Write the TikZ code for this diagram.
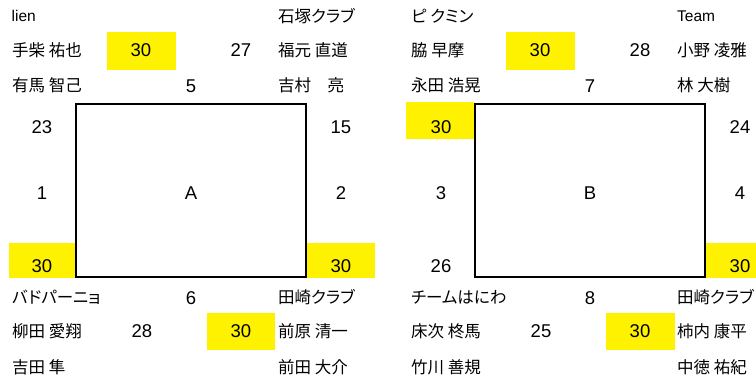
\documentclass[tikz,border=0pt]{standalone}
\usepackage{fontspec}
\setmainfont{Liberation Sans}
\newfontfamily\jp[RawFeature=+palt]{Noto Sans CJK JP}

\begin{document}
\begin{tikzpicture}[x=1pt,y=-1pt,
    nom/.style={anchor=west,inner sep=0pt,font=\jp\fontsize{16.5}{18}\selectfont},
    eq/.style={anchor=west,inner sep=0pt,font=\fontsize{15.5}{17}\selectfont},
    num/.style={inner sep=0pt,font=\fontsize{18.5}{20}\selectfont},
    hl/.style={fill=yellow},
    court/.style={draw,line width=2pt,minimum width=230pt,minimum height=173pt,inner sep=0pt}]
      \clip (0,0) rectangle (756,385);
      \def\dx{399}

      % Court A
      \fill[hl] (107,32) rectangle (176,70);
      \fill[hl] (9,243) rectangle (75,278);
      \fill[hl] (307,243) rectangle (375,278);
      \fill[hl] (207,313) rectangle (275,350);
      \node[court] (courtA) at (191,190.5) {};
      \node[num] (lblA) at (191,193) {A};

      \node[eq]  (teamA1) at (11.5,16) {lien};
      \node[nom] (teamA2) at (278,16) {石塚クラブ};
      \node[nom] (teamA3) at (12,297) {バドパーニョ};
      \node[nom] (teamA4) at (278,297) {田崎クラブ};

      \node[nom] (pA1) at (12,50) {手柴 祐也};
      \node[nom] (pA2) at (12,85) {有馬 智己};
      \node[nom] (pA3) at (278,50) {福元 直道};
      \node[nom] (pA4) at (278,85) {吉村　亮};
      \node[nom] (pA5) at (12,331) {柳田 愛翔};
      \node[nom] (pA6) at (12,367) {吉田 隼};
      \node[nom] (pA7) at (278,331) {前原 清一};
      \node[nom] (pA8) at (278,367) {前田 大介};

      % Scores A
      \node[num] (sA1) at (141,50) {30};
      \node[num] (sA2) at (241,50) {27};
      \node[num] (sA3) at (191,86) {5};
      \node[num] (sA4) at (42,127) {23};
      \node[num] (sA5) at (341,127) {15};
      \node[num] (sA6) at (42,193) {1};
      \node[num] (sA7) at (341,193) {2};
      \node[num] (sA8) at (42,266) {30};
      \node[num] (sA9) at (341,266) {30};
      \node[num] (sA10) at (191,298) {6};
      \node[num] (sA11) at (142,331) {28};
      \node[num] (sA12) at (241,331) {30};

      % Court B
      \begin{scope}[xshift=\dx pt]
      \fill[hl] (107,32) rectangle (176,70);
      \fill[hl] (7,102) rectangle (75,139);
      \fill[hl] (307,243) rectangle (375,278);
      \fill[hl] (207,313) rectangle (276,350);
      \node[court] (courtB) at (191,190.5) {};
      \node[num] (lblB) at (191,193) {B};

      \node[nom] (teamB1) at (12,16) {ピ クミン};
      \node[eq]  (teamB2) at (278,16) {Team};
      \node[nom] (teamB3) at (12,297) {チームはにわ};
      \node[nom] (teamB4) at (278,297) {田崎クラブ};

      \node[nom] (pB1) at (12,50) {脇 早摩};
      \node[nom] (pB2) at (12,85) {永田 浩晃};
      \node[nom] (pB3) at (278,50) {小野 凌雅};
      \node[nom] (pB4) at (278,85) {林 大樹};
      \node[nom] (pB5) at (12,331) {床次 柊馬};
      \node[nom] (pB6) at (12,367) {竹川 善規};
      \node[nom] (pB7) at (278,331) {柿内 康平};
      \node[nom] (pB8) at (278,367) {中徳 祐紀};

      % Scores B
      \node[num] (sB1) at (141,50) {30};
      \node[num] (sB2) at (241,50) {28};
      \node[num] (sB3) at (191,86) {7};
      \node[num] (sB4) at (42,127) {30};
      \node[num] (sB5) at (341,127) {24};
      \node[num] (sB6) at (42,193) {3};
      \node[num] (sB7) at (341,193) {4};
      \node[num] (sB8) at (42,266) {26};
      \node[num] (sB9) at (341,266) {30};
      \node[num] (sB10) at (191,298) {8};
      \node[num] (sB11) at (142,331) {25};
      \node[num] (sB12) at (241,331) {30};
      \end{scope}
    \end{tikzpicture}
\end{document}
